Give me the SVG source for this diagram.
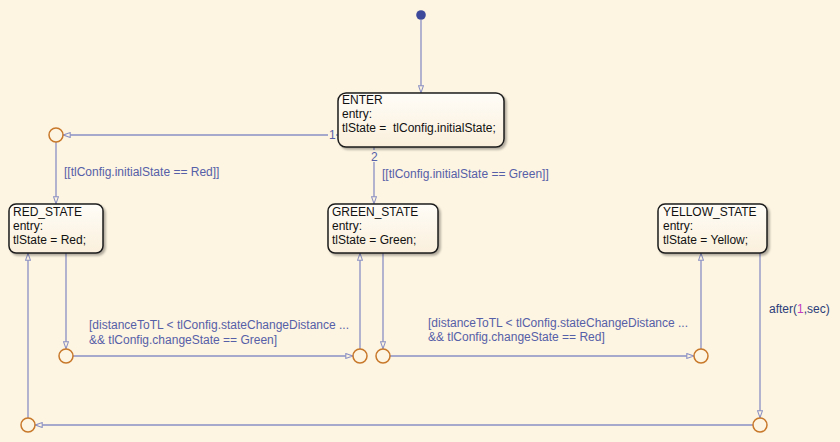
<svg xmlns="http://www.w3.org/2000/svg" width="840" height="442" viewBox="0 0 840 442">
<defs>
<linearGradient id="sg" x1="0" y1="0" x2="0" y2="1"><stop offset="0" stop-color="#FFFDF8"/><stop offset="1" stop-color="#FAEFDB"/></linearGradient>
<filter id="sh" x="-10%" y="-10%" width="130%" height="140%"><feDropShadow dx="2" dy="2" stdDeviation="1.2" flood-color="#000" flood-opacity="0.3"/></filter>
<marker id="arr" viewBox="0 0 10 8" refX="10" refY="4" markerWidth="8" markerHeight="6.4" orient="auto" markerUnits="userSpaceOnUse"><path d="M1,1 L9.5,4 L1,7 Z" fill="#FDF4E1" stroke="#8a90c4" stroke-width="1.3"/></marker>
<style>
.st{fill:url(#sg);stroke:#1c1c1c;stroke-width:1.5;filter:url(#sh)}
.tx{font-family:"Liberation Sans",Arial,sans-serif;font-size:12px;fill:#111;white-space:pre}
.lb{font-family:"Liberation Sans",Arial,sans-serif;font-size:12px;fill:#5560a8}
.cn{fill:none;stroke:#8a90c4;stroke-width:1.3;marker-end:url(#arr)}
.jn{fill:#FDF4E1;stroke:#c8782a;stroke-width:1.5}
</style>
</defs>
<rect width="840" height="442" fill="#FDF4E1"/>
<g id="connectors">
<path class="cn" d="M421,20 V93"/>
<path class="cn" d="M338,135 H63"/>
<path class="cn" d="M374,147 V204"/>
<path class="cn" d="M56,142 V204"/>
<path class="cn" d="M66,253 V349"/>
<path class="cn" d="M73,356 H353"/>
<path class="cn" d="M360,349 V253"/>
<path class="cn" d="M383,253 V349"/>
<path class="cn" d="M390,356 H694"/>
<path class="cn" d="M701,349 V253"/>
<path class="cn" d="M760,253 V418"/>
<path class="cn" d="M753,425 H35"/>
<path class="cn" d="M28,418 V253"/>
<rect x="328" y="129" width="8" height="12" fill="#FDF4E1"/>
<text class="lb" x="329" y="139">1</text>
<rect x="370" y="150" width="8" height="12" fill="#FDF4E1"/>
<text class="lb" x="371" y="161">2</text>
<text class="lb" x="64" y="176">[[tlConfig.initialState == Red]]</text>
<text class="lb" x="382" y="178">[[tlConfig.initialState == Green]]</text>
<text class="lb" x="89" y="329">[distanceToTL &lt; tlConfig.stateChangeDistance ...</text>
<text class="lb" x="89" y="344">&amp;&amp; tlConfig.changeState == Green]</text>
<text class="lb" x="428" y="327">[distanceToTL &lt; tlConfig.stateChangeDistance ...</text>
<text class="lb" x="428" y="341">&amp;&amp; tlConfig.changeState == Red]</text>
<text class="lb" x="769" y="313" style="fill:#2b3d7a">after(<tspan fill="#c23cc2">1</tspan>,sec)</text>
</g>
<g id="init"><circle cx="421" cy="15" r="4.8" fill="#3d4a9c"/></g>
<g id="ENTER">
<rect class="st" x="338" y="93" width="166" height="54" rx="8"/>
<text class="tx" x="342" y="104">ENTER</text>
<text class="tx" x="342" y="118">entry:</text>
<text class="tx" x="342" y="132">tlState =  tlConfig.initialState;</text>
</g>
<g id="RED_STATE">
<rect class="st" x="9" y="204" width="94" height="49" rx="7"/>
<text class="tx" x="13" y="216">RED_STATE</text>
<text class="tx" x="13" y="230">entry:</text>
<text class="tx" x="13" y="244">tlState = Red;</text>
</g>
<g id="GREEN_STATE">
<rect class="st" x="328" y="204" width="110" height="49" rx="7"/>
<text class="tx" x="332" y="216">GREEN_STATE</text>
<text class="tx" x="332" y="230">entry:</text>
<text class="tx" x="332" y="244">tlState = Green;</text>
</g>
<g id="YELLOW_STATE">
<rect class="st" x="658" y="204" width="109" height="49" rx="7"/>
<text class="tx" x="663" y="216">YELLOW_STATE</text>
<text class="tx" x="663" y="230">entry:</text>
<text class="tx" x="663" y="244">tlState = Yellow;</text>
</g>
<g id="j1"><circle class="jn" cx="56" cy="135" r="7"/></g>
<g id="j2"><circle class="jn" cx="66" cy="356" r="7"/></g>
<g id="j3"><circle class="jn" cx="360" cy="356" r="7"/></g>
<g id="j4"><circle class="jn" cx="383" cy="356" r="7"/></g>
<g id="j5"><circle class="jn" cx="701" cy="356" r="7"/></g>
<g id="j6"><circle class="jn" cx="760" cy="425" r="7"/></g>
<g id="j7"><circle class="jn" cx="28" cy="425" r="7"/></g>
</svg>
